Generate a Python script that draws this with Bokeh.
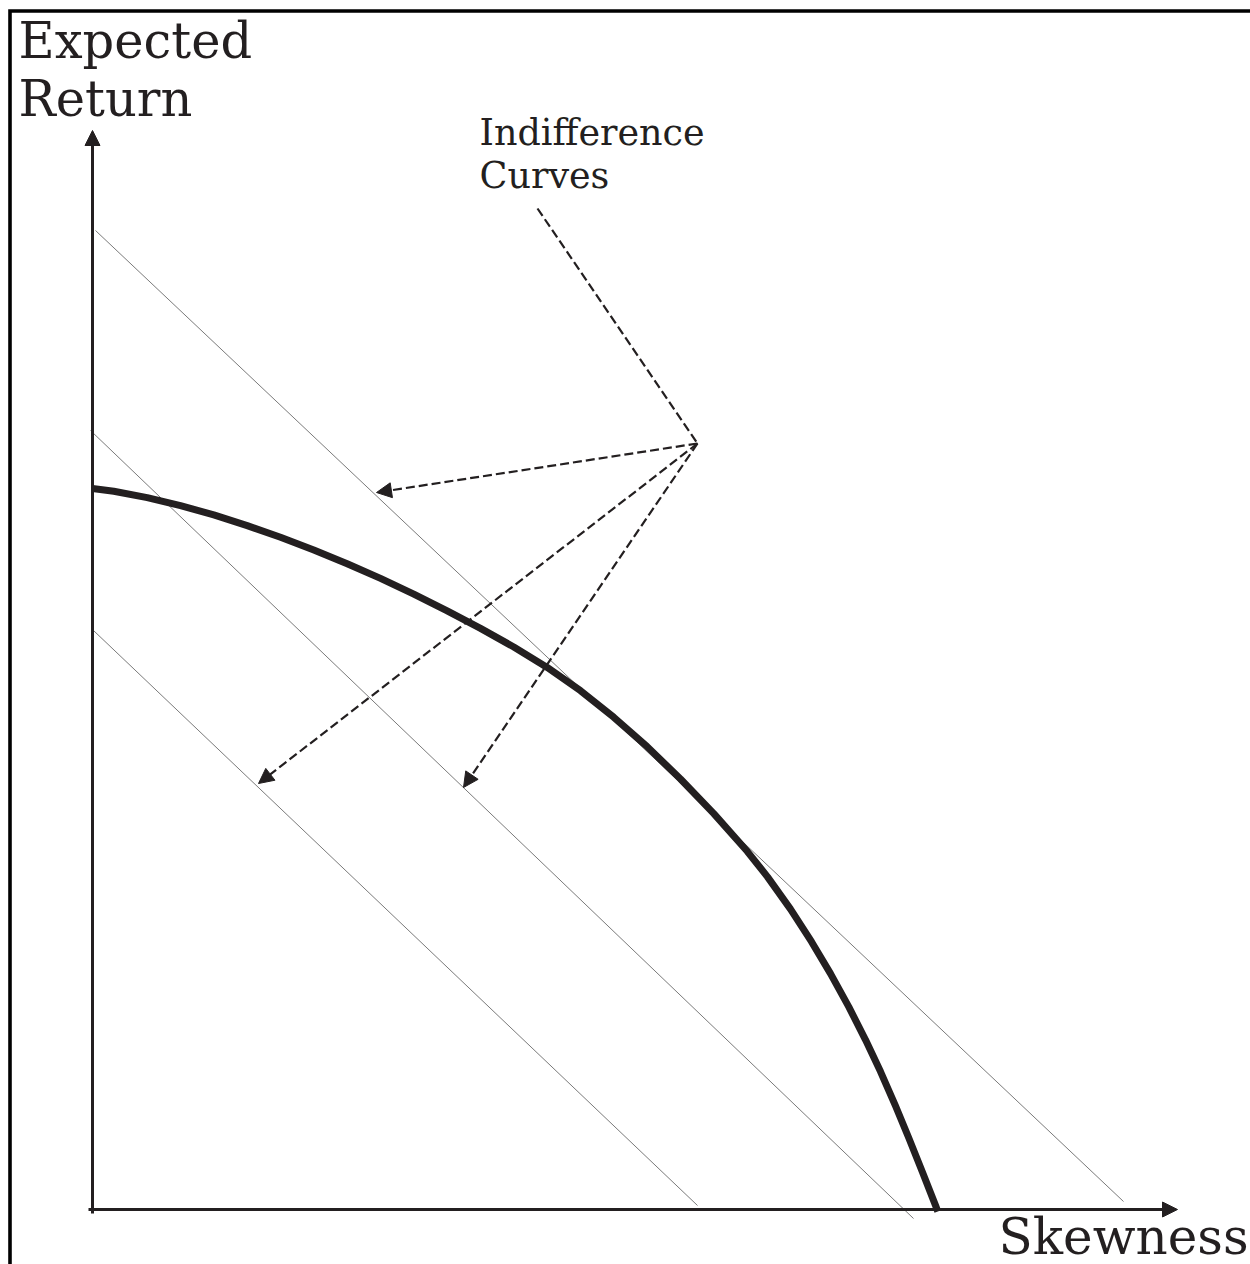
from bokeh.plotting import figure
from bokeh.models import Range1d, Arrow, NormalHead
from bokeh.embed import file_html
from bokeh.resources import INLINE
from bokeh.core.properties import value

# ---- data (chart units: origin at axes intersection) ----
frontier_x = [0.000, 0.213, 0.547, 0.880, 1.213, 1.547, 1.880, 2.213, 2.547, 2.880,
              3.213, 3.547, 3.880, 4.213, 4.547, 4.880, 5.213, 5.547, 5.880, 6.213,
              6.547, 6.750, 6.980, 7.190, 7.380, 7.563, 7.730, 7.880, 8.030, 8.163,
              8.297, 8.430, 8.453]
frontier_y = [7.210, 7.182, 7.119, 7.039, 6.946, 6.839, 6.722, 6.595, 6.458, 6.311,
              6.154, 5.987, 5.811, 5.625, 5.421, 5.188, 4.922, 4.628, 4.305, 3.959,
              3.582, 3.326, 3.004, 2.678, 2.359, 2.026, 1.697, 1.379, 1.037, 0.715,
              0.380, 0.041, -0.020]

indiff_x0 = [0.03, -0.02, 0.01]
indiff_y0 = [9.79, 7.79, 5.79]
indiff_x1 = [10.31, 8.21, 6.05]
indiff_y1 = [0.08, -0.09, 0.04]

hub = (6.05, 7.66)
pointer_top = (4.45, 10.01)
arrow_tip_x = [2.84, 1.66, 3.71]
arrow_tip_y = [7.17, 4.26, 4.22]

axis_x_end = 10.85
axis_y_end = 10.79

labels = ["Expected", "Return", "Indifference", "Curves", "Skewness"]

# ---- figure ----
X0, X1 = -0.92, 11.58
Y0, Y1 = -0.55, 12.09
FRAME_L, FRAME_T = -0.825, 11.985
INK = "#231f20"

p = figure(width=1250, height=1264, output_backend="svg", toolbar_location=None,
           x_range=Range1d(X0, X1), y_range=Range1d(Y0, Y1),
           x_axis_location=None, y_axis_location=None,
           min_border=0, outline_line_color=None, background_fill_color="white")
p.xgrid.visible = False
p.ygrid.visible = False

# decorative frame (top and left edges of the picture box)
p.line(x=[X1 + 0.1, FRAME_L, FRAME_L], y=[FRAME_T, FRAME_T, Y0 - 0.1],
       line_color="black", line_width=3.6, line_join="miter")

# indifference curves
p.segment(x0=indiff_x0, y0=indiff_y0, x1=indiff_x1, y1=indiff_y1,
          line_color="#7a7a7a", line_width=1)

# axes with arrows
p.add_layout(Arrow(x_start=0, y_start=-0.04, x_end=0, y_end=axis_y_end,
                   line_color=INK, line_width=3,
                   end=NormalHead(size=15, fill_color=INK, line_color=INK, line_width=1)))
p.add_layout(Arrow(x_start=-0.04, y_start=0, x_end=axis_x_end, y_end=0,
                   line_color=INK, line_width=3,
                   end=NormalHead(size=15, fill_color=INK, line_color=INK, line_width=1)))

# opportunity frontier
p.line(frontier_x, frontier_y, line_color=INK, line_width=7, line_cap="butt", line_join="round")

# dashed pointers
p.segment(x0=[pointer_top[0]], y0=[pointer_top[1]], x1=[hub[0]], y1=[hub[1]],
          line_color=INK, line_width=2.2, line_dash="9 4")
for tx, ty in zip(arrow_tip_x, arrow_tip_y):
    p.add_layout(Arrow(x_start=hub[0], y_start=hub[1], x_end=tx, y_end=ty,
                       line_color=INK, line_width=2.2, line_dash="9 4",
                       end=NormalHead(size=15, fill_color=INK, fill_alpha=1.0,
                                      line_color=INK, line_width=1, line_dash="solid")))

# texts
font = value("DejaVu Serif")
p.text(x=[-0.74, -0.74], y=[11.69, 11.11], text=labels[0:2], text_font=font,
       text_font_size="49.5px", text_color=INK, text_baseline="alphabetic", text_align="left")
p.text(x=[3.87, 3.87], y=[10.77, 10.34], text=labels[2:4], text_font=font,
       text_font_size="36.5px", text_color=INK, text_baseline="alphabetic", text_align="left")
p.text(x=[9.06], y=[-0.27], text=labels[4:5], text_font=font,
       text_font_size="50px", text_color=INK, text_baseline="alphabetic", text_align="left")

open("out.html", "w").write(file_html(p, INLINE))
